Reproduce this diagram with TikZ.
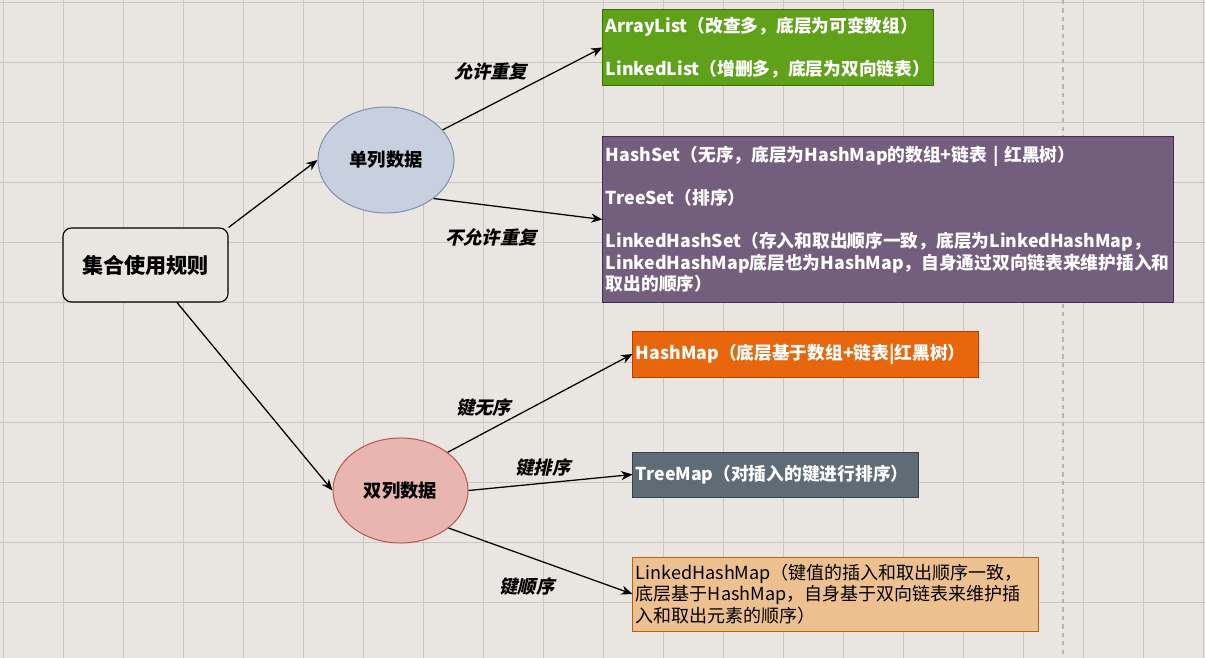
\documentclass[tikz,border=0pt]{standalone}
\usepackage{fontspec}
\setmainfont{Noto Sans CJK SC}
\newfontfamily\slantcjk{Noto Sans CJK SC}[FakeSlant=0.22]
\usepackage{xcolor}
\usetikzlibrary{arrows.meta,shapes.geometric}

\definecolor{canvasbg}{HTML}{E9E5E0}
\definecolor{gridgray}{HTML}{CBC6C1}
\definecolor{pagegray}{HTML}{B9B4AF}
\definecolor{listgreen}{HTML}{5FA118}
\definecolor{listgreenline}{HTML}{2D7600}
\definecolor{setpurple}{HTML}{745E7D}
\definecolor{setpurpleline}{HTML}{432D57}
\definecolor{maporange}{HTML}{E8660C}
\definecolor{maporangeline}{HTML}{C73500}
\definecolor{mapslate}{HTML}{5F6B75}
\definecolor{mapslateline}{HTML}{314354}
\definecolor{maptan}{HTML}{EDC090}
\definecolor{maptanline}{HTML}{B46504}
\definecolor{singlefill}{HTML}{C8CFDE}
\definecolor{singleline}{HTML}{7D8FB0}
\definecolor{doublefill}{HTML}{E8B5B1}
\definecolor{doubleline}{HTML}{B85450}

\begin{document}
\begin{tikzpicture}[
    x=0.025cm, y=-0.025cm,
    gridline/.style={draw=gridgray, line width=0.5pt},
    rootbox/.style={rectangle, rounded corners=6pt, draw=black, line width=0.8pt, fill=canvasbg,
                    minimum width=4.125cm, minimum height=1.85cm,
                    font=\fontsize{15}{18}\selectfont\bfseries},
    listbox/.style={rectangle, line width=0.7pt, inner xsep=0.075cm, inner ysep=0pt,
                    align=left, text=white, font=\fontsize{12.6}{15.3}\selectfont\bfseries},
    ovalnode/.style={ellipse, line width=0.7pt, inner sep=0pt,
                     font=\fontsize{13}{15}\selectfont\bfseries},
    arrow/.style={-{Stealth[length=8pt,width=6.5pt,inset=2.5pt]}, line width=0.9pt, draw=black},
    edgelabel/.style={font=\slantcjk\fontsize{13}{15}\selectfont\bfseries, inner sep=1pt}
]

% Canvas and grid
\fill[canvasbg] (0,0) rectangle (1205,658);
\useasboundingbox (0,0) rectangle (1205,658);
\foreach \gx in {3,63,...,1203} \draw[gridline] (\gx,0) -- (\gx,658);
\foreach \gy in {2,62,...,602} \draw[gridline] (0,\gy) -- (1205,\gy);
\draw[pagegray, line width=0.8pt, dash pattern=on 3pt off 3pt] (1063,0) -- (1063,658);

% Root and the two kinds
\node[rootbox] (root) at (145.5,265) {集合使用规则};
\node[ovalnode, fill=singlefill, draw=singleline, minimum width=3.4cm, minimum height=2.65cm] (single) at (386,160) {单列数据};
\node[ovalnode, fill=doublefill, draw=doubleline, minimum width=3.375cm, minimum height=2.625cm] (double) at (400.5,490.5) {双列数据};

% Single column collections
\node[listbox, fill=listgreen, draw=listgreenline, text width=8.1cm, minimum height=1.875cm] (lists) at (768,47.5)
    {ArrayList（改查多，底层为可变数组）\\[15.3pt]
     LinkedList（增删多，底层为双向链表）};
\node[listbox, fill=setpurple, draw=setpurpleline, text width=14.1cm, minimum height=4.125cm] (sets) at (888,219.5)
    {HashSet（无序，底层为HashMap的数组+链表 | 红黑树）\\[15.3pt]
     TreeSet（排序）\\[15.3pt]
     LinkedHashSet（存入和取出顺序一致，底层为LinkedHashMap，\\
     LinkedHashMap底层也为HashMap，自身通过双向链表来维护插入和\\
     取出的顺序）};

% Double column collections
\node[listbox, fill=maporange, draw=maporangeline, text width=8.475cm, minimum height=1.15cm] (hashmap) at (805.5,354)
    {HashMap（底层基于数组+链表|红黑树）};
\node[listbox, fill=mapslate, draw=mapslateline, text width=6.975cm, minimum height=1.125cm] (treemap) at (775.5,474.5)
    {TreeMap（对插入的键进行排序）};
\node[listbox, fill=maptan, draw=maptanline, text=black, font=\fontsize{12.8}{15.3}\selectfont,
      text width=9.975cm, minimum height=1.85cm] (linkedmap) at (835.5,594)
    {LinkedHashMap（键值的插入和取出顺序一致，\\
     底层基于HashMap，自身基于双向链表来维护插\\
     入和取出元素的顺序）};

% Connectors
\draw[arrow] (root.north east) -- (single.west);
\draw[arrow] (root.-50) -- (double.west);
\draw[arrow] (single.28) -- node[edgelabel, pos=0.3, yshift=0.83cm] {允许重复} (lists.west);
\draw[arrow] (single.-39) -- node[edgelabel, pos=0.34, yshift=-0.79cm] {不允许重复} (sets.west);
\draw[arrow] (double.39) -- node[edgelabel, pos=0.195, yshift=0.65cm] {键无序} (hashmap.west);
\draw[arrow] (double.east) -- node[edgelabel, pos=0.455, yshift=0.38cm] {键排序} (treemap.west);
\draw[arrow] (double.-38) -- node[edgelabel, pos=0.426, yshift=-0.77cm] {键顺序} (linkedmap.west);

\end{tikzpicture}
\end{document}
